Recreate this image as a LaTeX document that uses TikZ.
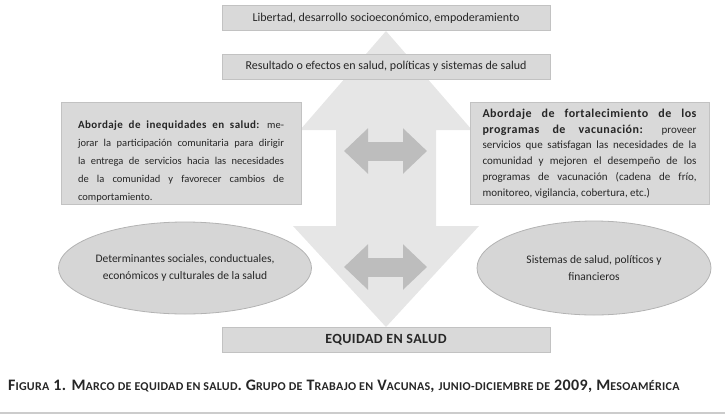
\documentclass[tikz,border=0pt]{standalone}
\usepackage{fontspec}
\setmainfont{Carlito}
\usepackage{tikz}
\usetikzlibrary{arrows.meta}
\usetikzlibrary{shapes.geometric}

\definecolor{boxgray}{HTML}{D9D9D9}
\definecolor{boxline}{HTML}{C2C2C2}
\definecolor{bigarrow}{HTML}{E6E6E6}
\definecolor{smallarrow}{HTML}{BDBDBD}
\definecolor{ellgray}{HTML}{D6D6D6}
\definecolor{ellline}{HTML}{B3B3B3}
\definecolor{txtgray}{HTML}{262626}

\tikzset{
  bandbox/.style={draw=boxline,fill=boxgray,line width=1pt,minimum width=328pt,minimum height=25pt,inner sep=0pt,text=txtgray,font=\fontsize{12}{14}\selectfont},
  sidebox/.style={draw=boxline,fill=boxgray,line width=1pt,minimum height=102pt,inner ysep=0pt,align=justify,text=txtgray},
  oval/.style={ellipse,draw=ellline,fill=ellgray,line width=0.8pt,minimum width=230pt,minimum height=92pt,inner sep=0pt,align=center,text=txtgray,font=\fontsize{11.5}{17}\selectfont},
  twoway/.style={smallarrow,line width=19pt,{Triangle[width=44pt,length=24pt]}-{Triangle[width=44pt,length=24pt]}}
}
\newcommand{\leadbold}[3]{{\fontsize{#1}{#2}\bfseries\addfontfeature{LetterSpace=4}#3}}
\newcommand{\smcap}[2]{#1{\fontsize{12}{14}\selectfont #2}}

\begin{document}
\begin{tikzpicture}[x=1pt,y=-1pt]
\useasboundingbox (0,0) rectangle (725,418);

% Big up/down arrow behind everything
\fill[bigarrow] (386,31) -- (472,130) -- (436,130) -- (436,226) -- (479,226) -- (386,327)
  -- (293,226) -- (336,226) -- (336,130) -- (300,130) -- cycle;

% Top and bottom bands
\node (libertad) at (386,18) [bandbox] {Libertad, desarrollo socioeconómico, empoderamiento};
\node (resultado) at (386,66.5) [bandbox] {Resultado o efectos en salud, políticas y sistemas de salud};
\node (equidad) at (386,340) [bandbox] {{\fontsize{14}{16}\bfseries\addfontfeature{LetterSpace=3}EQUIDAD EN SALUD}};

% Side boxes
\node (inequidad) at (181,153) [sidebox,text width=206pt,inner xsep=17pt,font=\fontsize{10.5}{18}\selectfont]
  {\rule{0pt}{25pt}\leadbold{11}{18}{Abordaje de inequidades en salud:} me-\linebreak
  jorar la participación comunitaria para dirigir\linebreak
  la entrega de servicios hacia las necesidades\linebreak
  de la comunidad y favorecer cambios de\linebreak
  comportamiento.};
\node (vacunas) at (589.5,153.5) [sidebox,text width=214pt,inner xsep=12.5pt,font=\fontsize{11}{15.7}\selectfont]
  {\leadbold{12}{15.7}{Abordaje de fortalecimiento de los\linebreak
  programas de vacunación:} proveer\linebreak
  servicios que satisfagan las necesidades de la\linebreak
  comunidad y mejoren el desempeño de los\linebreak
  programas de vacunación (cadena de frío,\linebreak
  monitoreo, vigilancia, cobertura, etc.)};

% Ovals
\node (determinantes) at (185,268) [oval] {Determinantes sociales, conductuales,\\económicos y culturales de la salud};
\node (sistemas) at (594,268) [oval,minimum width=234pt,minimum height=94pt] {Sistemas de salud, políticos y\\financieros};

% Two-way arrows
\coordinate (upL) at (344,151);
\coordinate (upR) at (427,151);
\coordinate (loL) at (344,267);
\coordinate (loR) at (427,267);
\draw[twoway] (upL) -- (upR);
\draw[twoway] (loL) -- (loR);

% Caption and rule
\node (caption) at (8,390) [anchor=base west,inner sep=0pt,text=txtgray,font=\fontsize{16}{18}\selectfont\bfseries\addfontfeature{LetterSpace=2.5}]
  {\smcap{F}{IGURA} 1. \smcap{M}{ARCO DE EQUIDAD EN SALUD}. \smcap{G}{RUPO DE} \smcap{T}{RABAJO EN} \smcap{V}{ACUNAS}, {\fontsize{12}{14}\selectfont JUNIO-DICIEMBRE DE} 2009, \smcap{M}{ESOAMÉRICA}};
\draw[gray!40,line width=2pt] (0,413) -- (725,413);

\end{tikzpicture}
\end{document}
